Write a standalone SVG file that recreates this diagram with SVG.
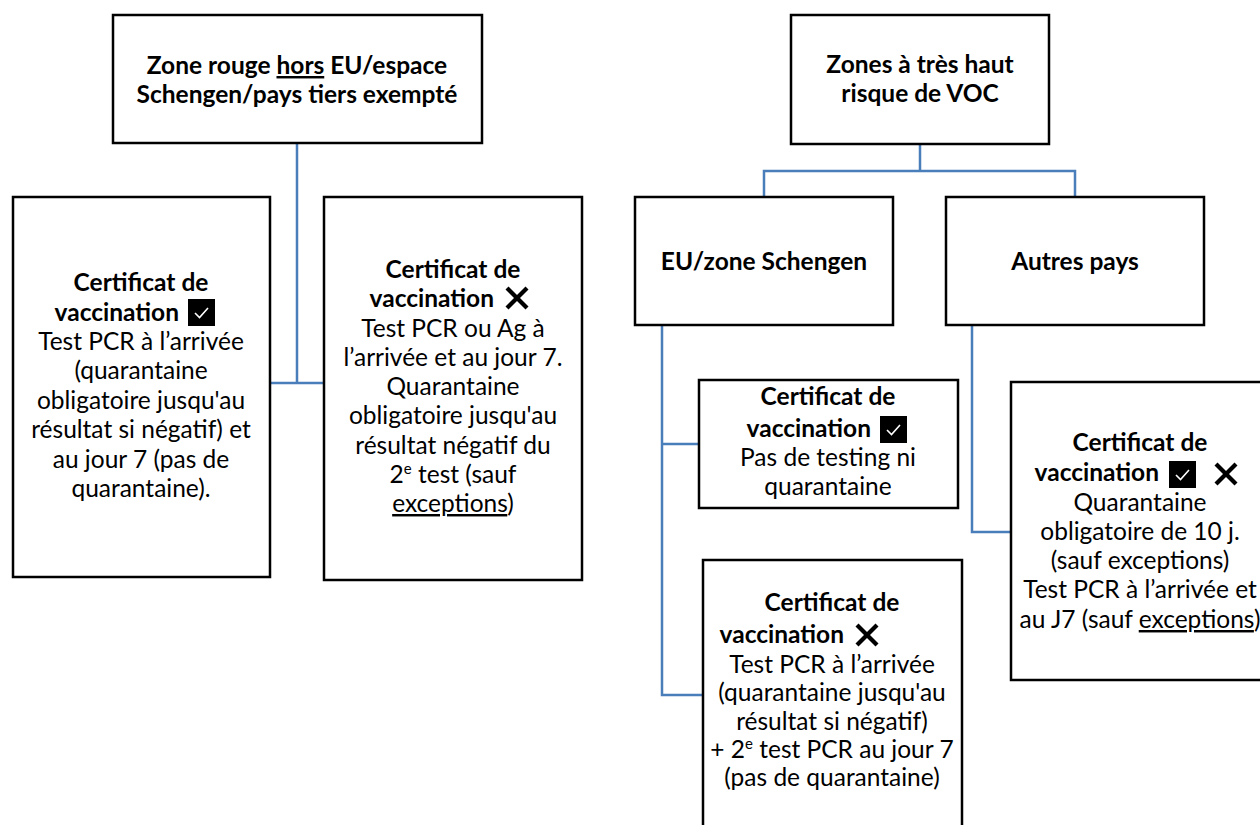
<svg xmlns="http://www.w3.org/2000/svg" width="1260" height="825" viewBox="0 0 1260 825">
<defs>
<style>
.box{fill:#fff;stroke:#000;stroke-width:2.5}
.con{fill:none;stroke:#4A7EBB;stroke-width:2.5}
text{font-family:Lato,"Open Sans","Liberation Sans",sans-serif;font-size:24.5px;fill:#000;text-anchor:middle}
.b{font-weight:bold}
.u{text-decoration:underline}
.chk{fill:none;stroke:#fff;stroke-width:1.6}
.x{stroke:#000;stroke-width:4.2;stroke-linecap:butt}
</style>
<g id="checkbox"><rect width="27" height="27" fill="#000"/><polyline class="chk" points="7,14 11.5,18.5 20,9"/></g>
<g id="cross"><line class="x" x1="-10" y1="-10" x2="10" y2="10"/><line class="x" x1="10" y1="-10" x2="-10" y2="10"/></g>
</defs>
<rect width="1260" height="825" fill="#fff"/>

<g id="connectors">
<path class="con" d="M297,143 V383 M270,383 H324"/>
<path class="con" d="M920,144 V171 M764,197 V171 H1075 V197"/>
<path class="con" d="M662,325 V695 H703 M662,444 H699"/>
<path class="con" d="M972,325 V532 H1011"/>
</g>

<g id="zone-rouge">
<rect class="box" x="113" y="15" width="369" height="128"/>
<text class="b" x="297" y="74">Zone rouge <tspan class="u">hors</tspan> EU/espace</text>
<text class="b" x="297" y="103">Schengen/pays tiers exempté</text>
</g>

<g id="zones-voc">
<rect class="box" x="791" y="15" width="258" height="129"/>
<text class="b" x="920" y="73">Zones à très haut</text>
<text class="b" x="920" y="102">risque de VOC</text>
</g>

<g id="eu-schengen">
<rect class="box" x="635" y="197" width="258" height="128"/>
<text class="b" x="764" y="270">EU/zone Schengen</text>
</g>

<g id="autres-pays">
<rect class="box" x="946" y="197" width="258" height="128"/>
<text class="b" x="1075" y="270">Autres pays</text>
</g>

<g id="rouge-vaccine">
<rect class="box" x="13" y="197" width="257" height="380"/>
<text class="b" x="141" y="291">Certificat de</text>
<text class="b" x="179" y="321" style="text-anchor:end">vaccination</text>
<use href="#checkbox" x="188" y="299"/>
<text x="141" y="350">Test PCR à l’arrivée</text>
<text x="141" y="379">(quarantaine</text>
<text x="141" y="409">obligatoire jusqu'au</text>
<text x="141" y="438">résultat si négatif) et</text>
<text x="141" y="468">au jour 7 (pas de</text>
<text x="141" y="497">quarantaine).</text>
</g>

<g id="rouge-non-vaccine">
<rect class="box" x="324" y="197" width="258" height="383"/>
<text class="b" x="453" y="278">Certificat de</text>
<text class="b" x="494" y="307" style="text-anchor:end">vaccination</text>
<use href="#cross" x="517" y="298"/>
<text x="453" y="337">Test PCR ou Ag à</text>
<text x="453" y="366">l’arrivée et au jour 7.</text>
<text x="453" y="395">Quarantaine</text>
<text x="453" y="424">obligatoire jusqu'au</text>
<text x="453" y="454">résultat négatif du</text>
<text x="453" y="483">2<tspan font-size="15" dy="-9">e</tspan><tspan dy="9"> test (sauf</tspan></text>
<text x="453" y="512"><tspan class="u">exceptions</tspan>)</text>
</g>

<g id="eu-vaccine">
<rect class="box" x="699" y="380" width="259" height="128"/>
<text class="b" x="828" y="405">Certificat de</text>
<text class="b" x="871" y="437" style="text-anchor:end">vaccination</text>
<use href="#checkbox" x="880" y="416"/>
<text x="828" y="466">Pas de testing ni</text>
<text x="828" y="495">quarantaine</text>
</g>

<g id="eu-non-vaccine">
<rect class="box" x="703" y="560" width="259" height="280"/>
<text class="b" x="832" y="611">Certificat de</text>
<text class="b" x="844" y="643" style="text-anchor:end">vaccination</text>
<use href="#cross" x="867" y="635"/>
<text x="832" y="673">Test PCR à l’arrivée</text>
<text x="832" y="701">(quarantaine jusqu'au</text>
<text x="832" y="730">résultat si négatif)</text>
<text x="832" y="758">+ 2<tspan font-size="15" dy="-9">e</tspan><tspan dy="9"> test PCR au jour 7</tspan></text>
<text x="832" y="786">(pas de quarantaine)</text>
</g>

<g id="autres-vaccination">
<rect class="box" x="1011" y="382" width="264" height="298"/>
<text class="b" x="1140" y="451">Certificat de</text>
<text class="b" x="1159" y="481" style="text-anchor:end">vaccination</text>
<use href="#checkbox" x="1169" y="461"/>
<use href="#cross" x="1226" y="474"/>
<text x="1140" y="511">Quarantaine</text>
<text x="1140" y="540">obligatoire de 10 j.</text>
<text x="1140" y="569">(sauf exceptions)</text>
<text x="1140" y="598">Test PCR à l’arrivée et</text>
<text x="1140" y="628">au J7 (sauf <tspan class="u">exceptions</tspan>)</text>
</g>
</svg>
